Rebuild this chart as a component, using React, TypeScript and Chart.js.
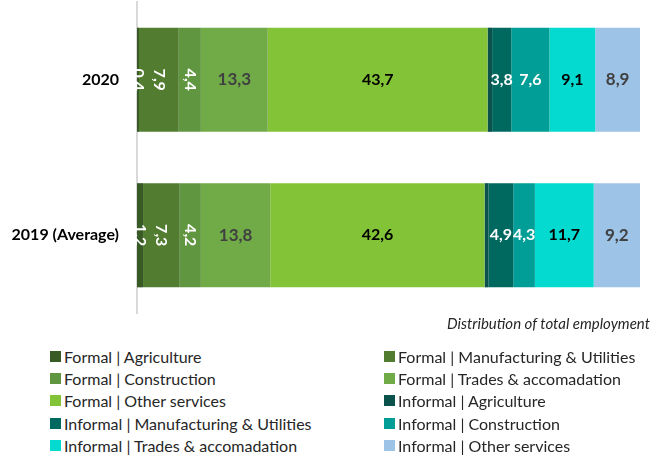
import React, { useEffect, useRef } from "react";
import { Chart, registerables } from "chart.js";

Chart.register(...registerables);

const categories = ["2020", "2019 (Average)"];
const seriesNames = [
  "Formal | Agriculture",
  "Formal | Manufacturing & Utilities",
  "Formal | Construction",
  "Formal | Trades & accomadation",
  "Formal | Other services",
  "Informal | Agriculture",
  "Informal | Manufacturing & Utilities",
  "Informal | Construction",
  "Informal | Trades & accomadation",
  "Informal | Other services",
];
const formalAgriculture = [0.4, 1.2];
const formalManufacturing = [7.9, 7.3];
const formalConstruction = [4.4, 4.2];
const formalTrades = [13.3, 13.8];
const formalOther = [43.7, 42.6];
const informalAgriculture = [0.9, 0.8];
const informalManufacturing = [3.8, 4.9];
const informalConstruction = [7.6, 4.3];
const informalTrades = [9.1, 11.7];
const informalOther = [8.9, 9.2];
const seriesValues = [
  formalAgriculture,
  formalManufacturing,
  formalConstruction,
  formalTrades,
  formalOther,
  informalAgriculture,
  informalManufacturing,
  informalConstruction,
  informalTrades,
  informalOther,
];
const colors = [
  "#385a25",
  "#527d31",
  "#60963f",
  "#70ab48",
  "#83c337",
  "#0b524c",
  "#00695f",
  "#009e96",
  "#05dad0",
  "#9dc3e6",
];
// label style per series: [show, color, rotated, size]
const labelStyles: [boolean, string, boolean, number][] = [
  [true, "#ffffff", true, 16],
  [true, "#ffffff", true, 16],
  [true, "#ffffff", true, 16],
  [true, "#404040", false, 17],
  [true, "#000000", false, 16],
  [false, "#ffffff", false, 16],
  [true, "#ffffff", false, 16],
  [true, "#ffffff", false, 16],
  [true, "#000000", false, 16],
  [true, "#404040", false, 17],
];
const axisTitle = "Distribution of total employment";
const FONT = "Lato, 'Open Sans', sans-serif";

const labelPlugin = {
  id: "segLabels",
  afterDatasetsDraw(chart: any) {
    const ctx = chart.ctx;
    ctx.save();
    chart.data.datasets.forEach((ds: any, i: number) => {
      const [show, color, rotated, size] = labelStyles[i];
      if (!show) return;
      const meta = chart.getDatasetMeta(i);
      meta.data.forEach((el: any, j: number) => {
        const { x, y, base } = el.getProps(["x", "y", "base"], true);
        const cx = (x + base) / 2;
        const text = Number(ds.data[j]).toFixed(1).replace(".", ",");
        ctx.font = `bold ${size}px ${FONT}`;
        ctx.fillStyle = color;
        ctx.textAlign = "center";
        ctx.textBaseline = "middle";
        if (rotated) {
          ctx.save();
          ctx.translate(cx, y);
          ctx.rotate(Math.PI / 2);
          ctx.fillText(text, 0, 0);
          ctx.restore();
        } else {
          ctx.fillText(text, cx, y);
        }
      });
    });
    ctx.restore();
  },
};

export default function App() {
  const ref = useRef<HTMLCanvasElement>(null);
  useEffect(() => {
    if (!ref.current) return;
    const chart = new Chart(ref.current, {
      type: "bar",
      data: {
        labels: categories,
        datasets: seriesNames.map((name, i) => ({
          label: name,
          data: seriesValues[i],
          backgroundColor: colors[i],
          borderWidth: 0,
          categoryPercentage: 0.67,
          barPercentage: 1,
        })),
      },
      options: {
        indexAxis: "y",
        responsive: true,
        maintainAspectRatio: false,
        animation: false,
        layout: { autoPadding: false, padding: { top: 2, bottom: 7, right: 24, left: 0 } },
        plugins: { legend: { display: false }, tooltip: { enabled: false } },
        scales: {
          x: { stacked: true, min: 0, max: 100, display: false },
          y: {
            stacked: true,
            grid: { display: false, drawTicks: false },
            border: { display: true, color: "#d9d9d9", width: 2 },
            ticks: {
              color: "#000000",
              padding: 18,
              font: { family: FONT, size: 16, weight: "bold" },
            },
            afterFit: (s: any) => {
              s.width = 137;
              s.paddingTop = 0;
              s.paddingBottom = 0;
            },
          },
        },
      } as any,
      plugins: [labelPlugin],
    });
    return () => chart.destroy();
  }, []);

  const rowY = [357, 379, 401, 424, 446];
  return (
    <div
      style={{
        position: "fixed",
        left: 0,
        top: 0,
        width: 664,
        height: 458,
        background: "#fff",
        fontFamily: FONT,
      }}
    >
      <div style={{ position: "absolute", left: 0, top: 0, width: 664, height: 320 }}>
        <canvas ref={ref} />
      </div>
      <div
        style={{
          position: "absolute",
          right: 14,
          top: 313,
          fontSize: 15,
          fontStyle: "italic",
          color: "#262626",
          lineHeight: "20px",
          whiteSpace: "nowrap",
        }}
      >
        {axisTitle}
      </div>
      {seriesNames.map((name, i) => {
        const col = i % 2;
        const row = Math.floor(i / 2);
        return (
          <div
            key={name}
            style={{
              position: "absolute",
              left: col === 0 ? 50 : 384,
              top: rowY[row] - 11,
              height: 20,
              display: "flex",
              alignItems: "center",
              whiteSpace: "nowrap",
              fontSize: 16,
              color: "#262626",
            }}
          >
            <span
              style={{
                display: "inline-block",
                width: 11,
                height: 11,
                background: colors[i],
                marginRight: 3,
              }}
            />
            <span>{name}</span>
          </div>
        );
      })}
    </div>
  );
}
